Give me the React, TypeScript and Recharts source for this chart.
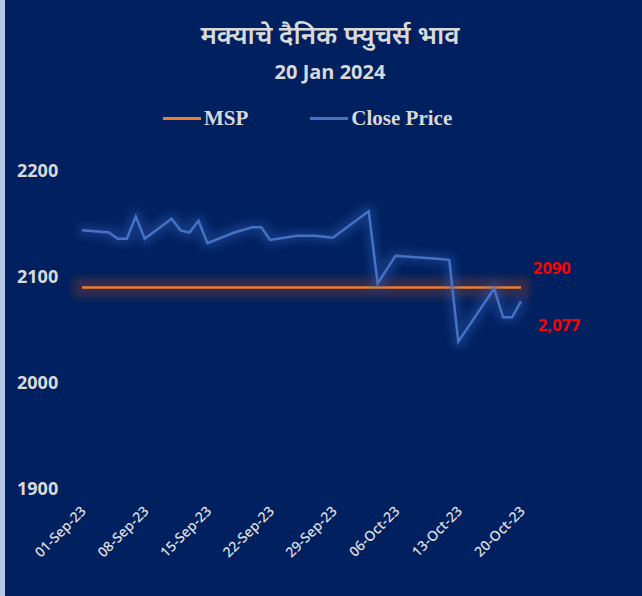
import React from "react";
import { Line, LineChart, XAxis, YAxis } from "recharts";

// trading days
const tradeDates = [
  "2023-09-01", "2023-09-04", "2023-09-05", "2023-09-06", "2023-09-07", "2023-09-08",
  "2023-09-11", "2023-09-12", "2023-09-13", "2023-09-14", "2023-09-15",
  "2023-09-18", "2023-09-20", "2023-09-21", "2023-09-22",
  "2023-09-25", "2023-09-27", "2023-09-28", "2023-09-29",
  "2023-10-03", "2023-10-04", "2023-10-06",
  "2023-10-11", "2023-10-12", "2023-10-13",
  "2023-10-17", "2023-10-18", "2023-10-19", "2023-10-20",
];

const closePrices = [
  2144, 2142, 2136, 2136, 2157, 2136,
  2155, 2144, 2142, 2153, 2132,
  2142, 2147, 2147, 2135,
  2139, 2139, 2138, 2137,
  2162, 2094, 2120,
  2117, 2116, 2039,
  2089, 2062, 2062, 2077,
];

const mspLevel = 2090;

const tickDates = [
  "2023-09-01", "2023-09-08", "2023-09-15", "2023-09-22",
  "2023-09-29", "2023-10-06", "2023-10-13", "2023-10-20",
];
const tickLabels = [
  "01-Sep-23", "08-Sep-23", "15-Sep-23", "22-Sep-23",
  "29-Sep-23", "06-Oct-23", "13-Oct-23", "20-Oct-23",
];
const yTicks = [1900, 2000, 2100, 2200];

const DAY = 86400000;
const start = Date.parse(tradeDates[0]);
const toDay = (d: string) => Math.round((Date.parse(d) - start) / DAY);

const data = tradeDates.map((d, i) => ({
  day: toDay(d),
  close: closePrices[i],
  msp: mspLevel,
}));
const tickDays = tickDates.map(toDay);

const BG = "#002060";
const TEXT = "#d9d9d9";
const SANS = "'Open Sans', 'Noto Sans', sans-serif";
const lastIndex = data.length - 1;

const YTick = ({ x, y, payload }: any) => (
  <text x={x} y={y} dx={-65} dy={6} textAnchor="start" fill={TEXT} fontSize={18} fontWeight={700} fontFamily={SANS}>
    {payload.value}
  </text>
);

const XTick = ({ x, y, payload }: any) => (
  <g transform={`translate(${x + 5},${y + 23})`}>
    <text transform="rotate(-45)" textAnchor="end" fill={TEXT} fontSize={14} fontWeight={600} fontFamily={SANS}>
      {tickLabels[tickDays.indexOf(payload.value)]}
    </text>
  </g>
);

const endLabel = (fmt: (v: number) => string, dx: number, dy: number) => (props: any) => {
  if (props.index !== lastIndex) return null;
  return (
    <text x={props.x + dx} y={props.y + dy} fill="#ff0000" fontSize={16.5} fontWeight={700} fontFamily={SANS}>
      {fmt(Number(props.value))}
    </text>
  );
};

const LegendItem = ({ color, label }: { color: string; label: string }) => (
  <div style={{ display: "flex", alignItems: "center" }}>
    <div style={{ width: 38, height: 3, background: color, marginRight: 3 }} />
    <span>{label}</span>
  </div>
);

export default function App() {
  return (
    <div style={{ position: "relative", width: 642, height: 596, background: BG, overflow: "hidden" }}>
      <style>{`body{margin:0}`}</style>
      <div style={{ position: "absolute", left: 0, top: 0, width: 5, height: 596, background: "#b4c7e7" }} />
      <div
        style={{
          position: "absolute", left: 18, width: 624, top: 14, textAlign: "center",
          color: TEXT, fontFamily: SANS, fontSize: 26, fontWeight: 600, lineHeight: "40px",
        }}
      >
        मक्याचे दैनिक फ्युचर्स भाव
      </div>
      <div
        style={{
          position: "absolute", left: 18, width: 624, top: 57, textAlign: "center",
          color: TEXT, fontFamily: SANS, fontSize: 20, fontWeight: 700, lineHeight: "30px",
        }}
      >
        20 Jan 2024
      </div>
      <div
        style={{
          position: "absolute", left: 163, top: 104, display: "flex", gap: 62,
          color: TEXT, fontFamily: "'Liberation Serif', serif", fontSize: 21, fontWeight: 700,
          lineHeight: "28px",
        }}
      >
        <LegendItem color="#ed7d31" label="MSP" />
        <LegendItem color="#4472c4" label="Close Price" />
      </div>
      <div style={{ position: "absolute", left: 0, top: 0 }}>
        <LineChart width={642} height={596} data={data} margin={{ top: 171, right: 121, bottom: 0, left: 12 }}>
          <defs>
            <filter id="glowOrange" filterUnits="userSpaceOnUse" x="0" y="0" width="642" height="596">
              <feMorphology in="SourceAlpha" operator="dilate" radius="9" result="d" />
              <feGaussianBlur in="d" stdDeviation="3.5" result="b" />
              <feFlood floodColor="#b04a1c" floodOpacity="0.27" />
              <feComposite in2="b" operator="in" result="g" />
              <feMerge>
                <feMergeNode in="g" />
                <feMergeNode in="SourceGraphic" />
              </feMerge>
            </filter>
            <filter id="glowBlue" filterUnits="userSpaceOnUse" x="0" y="0" width="642" height="596">
              <feMorphology in="SourceAlpha" operator="dilate" radius="4" result="d" />
              <feGaussianBlur in="d" stdDeviation="4.5" result="b" />
              <feFlood floodColor="#3a68c0" floodOpacity="0.32" />
              <feComposite in2="b" operator="in" result="g" />
              <feMerge>
                <feMergeNode in="g" />
                <feMergeNode in="SourceGraphic" />
              </feMerge>
            </filter>
          </defs>
          <XAxis
            type="number"
            dataKey="day"
            domain={[0, tickDays[tickDays.length - 1]]}
            ticks={tickDays}
            interval={0}
            axisLine={false}
            tickLine={false}
            tickSize={0}
            tickMargin={0}
            height={107}
            tick={<XTick />}
          />
          <YAxis
            domain={[1900, 2200]}
            ticks={yTicks}
            axisLine={false}
            tickLine={false}
            tickSize={0}
            tickMargin={0}
            width={70}
            tick={<YTick />}
          />
          <Line
            dataKey="msp"
            stroke="#ed7d31"
            strokeWidth={2.5}
            dot={false}
            filter="url(#glowOrange)"
            isAnimationActive={false}
            label={endLabel((v) => String(v), 12, -14)}
          />
          <Line
            type="linear"
            dataKey="close"
            stroke="#4472c4"
            strokeWidth={2.5}
            dot={false}
            filter="url(#glowBlue)"
            isAnimationActive={false}
            label={endLabel((v) => v.toLocaleString("en-US"), 17, 30)}
          />
        </LineChart>
      </div>
    </div>
  );
}
